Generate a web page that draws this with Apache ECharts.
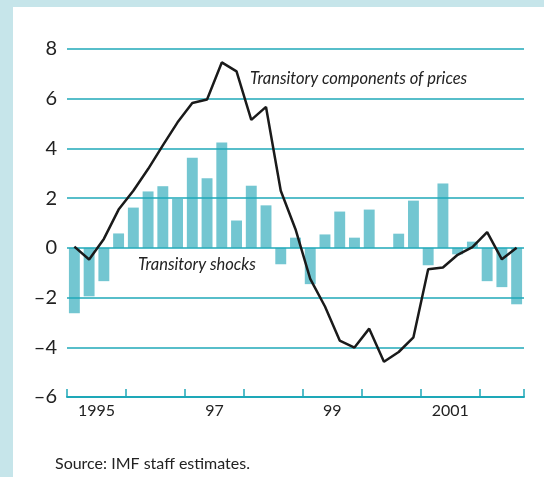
<!DOCTYPE html>
<html lang="en">
<head>
    <meta charset="UTF-8">
    <title>Transitory components of prices</title>
    <script src="https://cdn.jsdelivr.net/npm/echarts@6/dist/echarts.min.js"></script>
    <style>
        html, body { margin: 0; padding: 0; background: #ffffff; }
        #chart { width: 544px; height: 477px; }
    </style>
</head>
<body>
<div id="chart"></div>
<script>
    // quarters 1995Q1 .. 2002Q3
    var quarters = [];
    for (var y = 1995; y <= 2002; y++) {
        for (var q = 1; q <= 4; q++) {
            if (y == 2002 && q > 3) break;
            quarters.push(y + 'Q' + q);
        }
    }
    var shocks = [-2.63, -1.95, -1.34, 0.58, 1.62, 2.27, 2.48, 1.97, 3.63, 2.8, 4.24, 1.1, 2.5, 1.71,
        -0.66, 0.41, -1.46, 0.54, 1.46, 0.41, 1.54, 0, 0.57, 1.9, -0.7, 2.59, -0.26, 0.25, -1.34, -1.58, -2.27];
    var prices = [0.05, -0.47, 0.36, 1.54, 2.3, 3.17, 4.12, 5.05, 5.83, 5.97, 7.46, 7.1, 5.15, 5.67,
        2.3, 0.75, -1.25, -2.36, -3.73, -4.01, -3.25, -4.58, -4.19, -3.6, -0.86, -0.79, -0.28, 0.03, 0.63, -0.46, 0.0];
    // year labels sit in the middle of each 4-quarter band
    var yearPos = [2, 10, 18, 26];
    var yearLabels = ['1995', '97', '99', '2001'];

    var teal = '#1fa8b8';
    var chart = echarts.init(document.getElementById('chart'));
    var option = {
        backgroundColor: '#ffffff',
        animation: false,
        grid: { left: 67, right: 20, top: 49, bottom: 80 },
        graphic: [
            { type: 'rect', left: 0, top: 0, shape: { width: 544, height: 7 }, style: { fill: '#c6e5ea' } },
            { type: 'rect', left: 0, top: 0, shape: { width: 13, height: 477 }, style: { fill: '#c6e5ea' } },
            { type: 'text', left: 250, top: 70, style: { text: 'Transitory components of prices', fill: '#222',
                font: 'italic 16.5px Lato' } },
            { type: 'text', left: 138, top: 256, style: { text: 'Transitory shocks', fill: '#222',
                font: 'italic 16.5px Lato' } },
            { type: 'text', left: 55, top: 456, style: { text: 'Source: IMF staff estimates.', fill: '#222',
                font: '16px Lato' } }
        ],
        xAxis: [
            {
                type: 'category',
                data: quarters,
                boundaryGap: true,
                position: 'bottom',
                axisLine: { onZero: false, lineStyle: { color: teal, width: 2 } },
                axisTick: { show: true, inside: true, length: 8, interval: 3, lineStyle: { color: teal, width: 1.5 } },
                axisLabel: { show: false },
                splitLine: { show: false }
            },
            {
                type: 'value',
                min: 0,
                max: 31,
                interval: 2,
                position: 'bottom',
                axisLine: { show: false },
                axisTick: { show: false },
                splitLine: { show: false },
                axisLabel: {
                    margin: 6,
                    color: '#222',
                    fontFamily: 'Lato',
                    fontSize: 16,
                    showMinLabel: true,
                    showMaxLabel: false,
                    formatter: function (v) {
                        var k = yearPos.indexOf(v);
                        return k >= 0 ? yearLabels[k] : '';
                    }
                }
            }
        ],
        yAxis: {
            type: 'value',
            min: -6,
            max: 8,
            interval: 2,
            z: 3,
            axisLine: { show: false },
            axisTick: { show: false },
            splitLine: { show: true, lineStyle: { color: teal, width: 1.5 } },
            axisLabel: {
                margin: 10,
                color: '#222',
                fontFamily: 'Lato',
                fontSize: 20,
                formatter: function (v) {
                    return v < 0 ? '\u2013' + Math.abs(v) : String(v);
                }
            }
        },
        series: [
            {
                name: 'Transitory shocks',
                type: 'bar',
                xAxisIndex: 0,
                data: shocks,
                barCategoryGap: '26%',
                itemStyle: { color: '#73c6d1' },
                z: 2
            },
            {
                name: 'Transitory components of prices',
                type: 'line',
                xAxisIndex: 0,
                data: prices,
                showSymbol: false,
                lineStyle: { color: '#1a1a1a', width: 2.5 },
                z: 5
            }
        ]
    };
    chart.setOption(option);
</script>
</body>
</html>
